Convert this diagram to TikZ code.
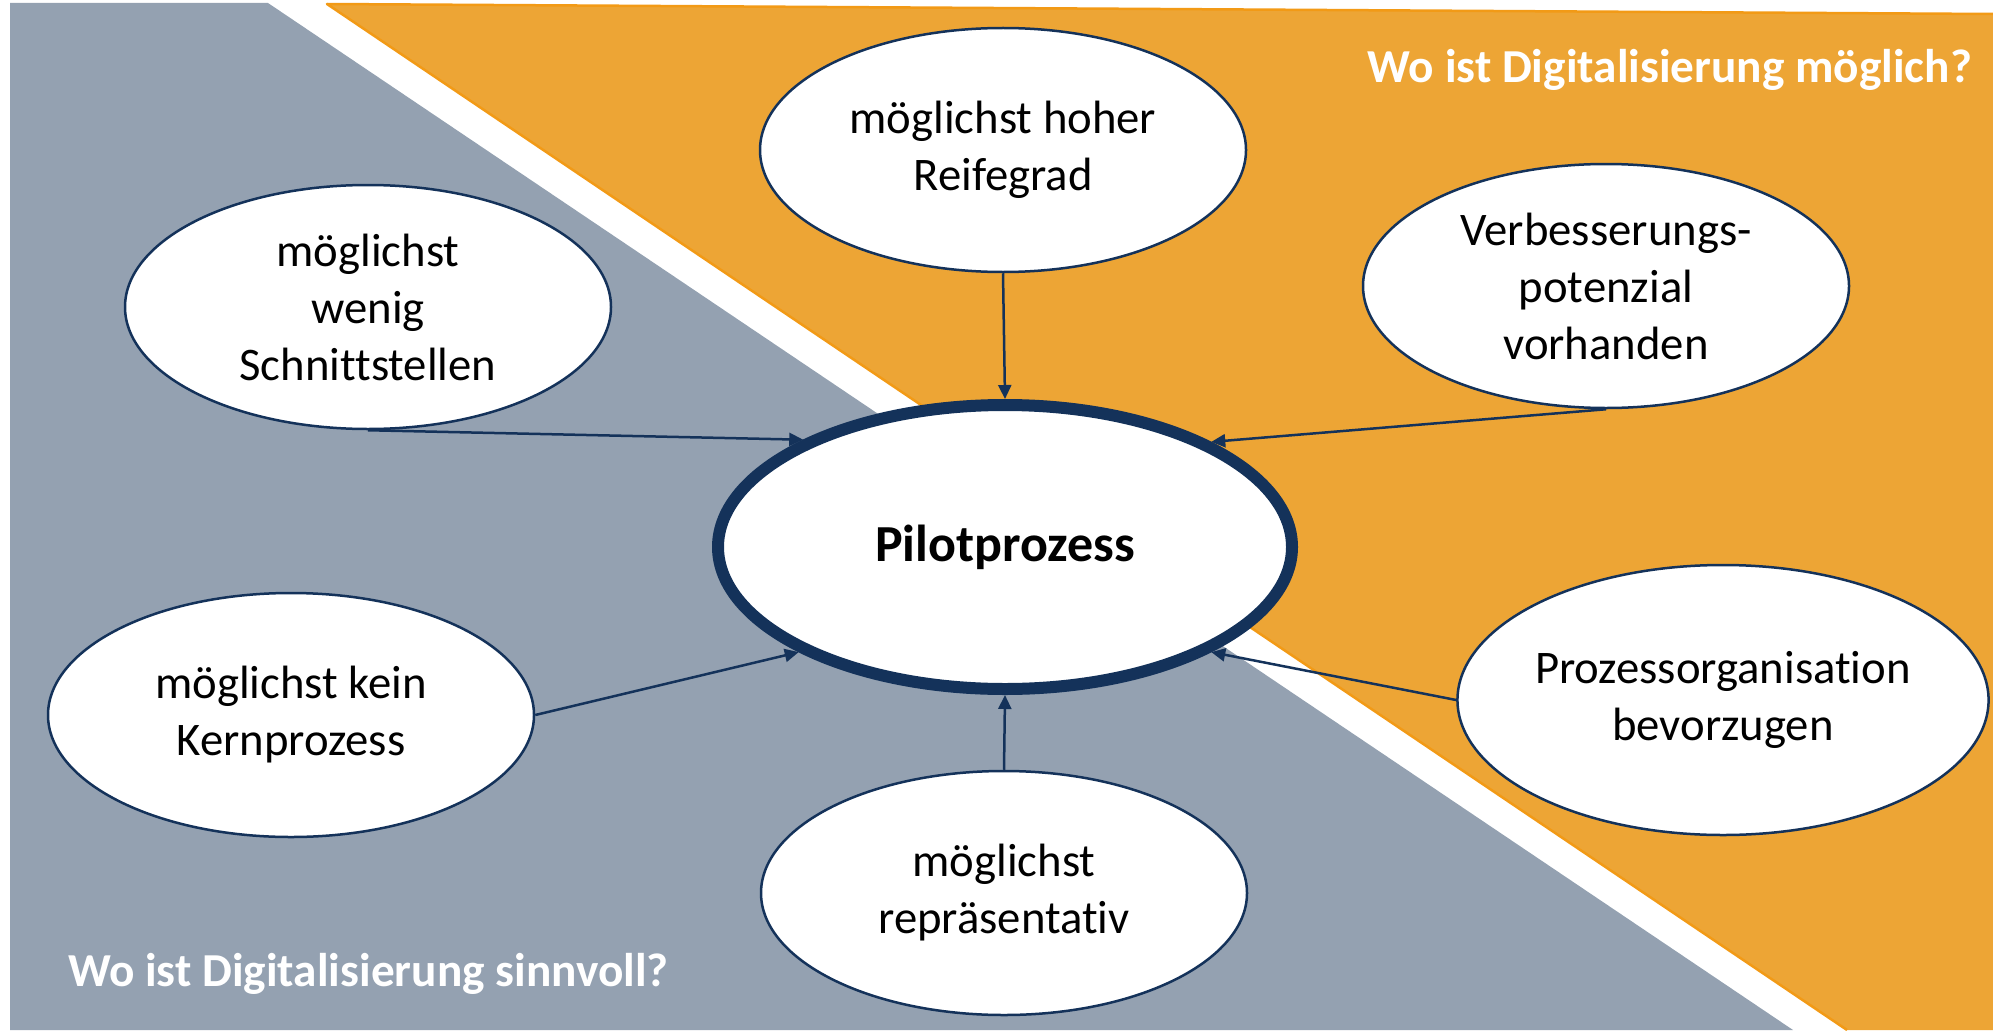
\documentclass[tikz,border=0pt]{standalone}
\usepackage{fontspec}
\setmainfont{Carlito}[Ligatures={NoCommon}]
\usetikzlibrary{arrows.meta,shapes.geometric}
\definecolor{greyarea}{HTML}{94A1B1}
\definecolor{orangearea}{HTML}{EDA535}
\definecolor{orangeline}{HTML}{F29A16}
\definecolor{navy}{HTML}{14325A}
\begin{document}
\begin{tikzpicture}[x=1pt,y=-1pt,
  crit/.style={ellipse, draw=navy, line width=2.5pt, fill=white,
    minimum width=486pt, minimum height=244pt, inner sep=0pt, align=center,
    font=\fontsize{46.7pt}{57pt}\selectfont},
  pilot/.style={ellipse, draw=navy, line width=12pt, fill=white,
    minimum width=574pt, minimum height=284pt, inner sep=0pt,
    font=\fontsize{52pt}{62pt}\selectfont\bfseries},
  title/.style={text=white, inner sep=0pt, font=\fontsize{47.3pt}{57pt}\selectfont\bfseries},
  conn/.style={draw=navy, line width=2.5pt, -{Triangle[length=14pt,width=13pt]}}
]
\useasboundingbox (0,0) rectangle (1993,1030);
% background areas
\fill[greyarea] (10,3) -- (268,3) -- (1793,1030) -- (10,1030) -- cycle;
\fill[orangearea] (327,4) -- (1993,14) -- (1993,1030) -- (1847,1030) -- cycle;
\draw[orangeline, line width=2.5pt, line join=round] (1993,14) -- (327,4) -- (1847,1030);
% titles
\node[title, anchor=base east] (tmoeglich) at (1972,83) {Wo ist Digitalisierung möglich?};
\node[title, anchor=base west] (tsinnvoll) at (68,986) {Wo ist Digitalisierung sinnvoll?};
% nodes
\node[pilot] (pilot) at (1005,547) {Pilotprozess};
\node[crit] (reif) at (1003,150) {möglichst hoher\\Reifegrad};
\node[crit] (verb) at (1606,286) {Verbesserungs-\\potenzial\\vorhanden};
\node[crit] (schn) at (368,307) {möglichst\\wenig\\Schnittstellen};
\node[crit] (kern) at (291,715) {möglichst kein\\Kernprozess};
\node[crit, minimum width=530pt, minimum height=270pt] (orga) at (1723,700) {Prozessorganisation\\bevorzugen};
\node[crit] (repr) at (1004,893) {möglichst\\repräsentativ};
% connectors
\draw[conn] (reif.south) -- (pilot.north);
\draw[conn] (repr.north) -- (pilot.south);
\draw[conn] (schn.south) -- (pilot.152.8);
\draw[conn] (verb.south) -- (pilot.27.2);
\draw[conn] (kern.east) -- (pilot.207.2);
\draw[conn] (orga.west) -- (pilot.-27.2);
\end{tikzpicture}
\end{document}
